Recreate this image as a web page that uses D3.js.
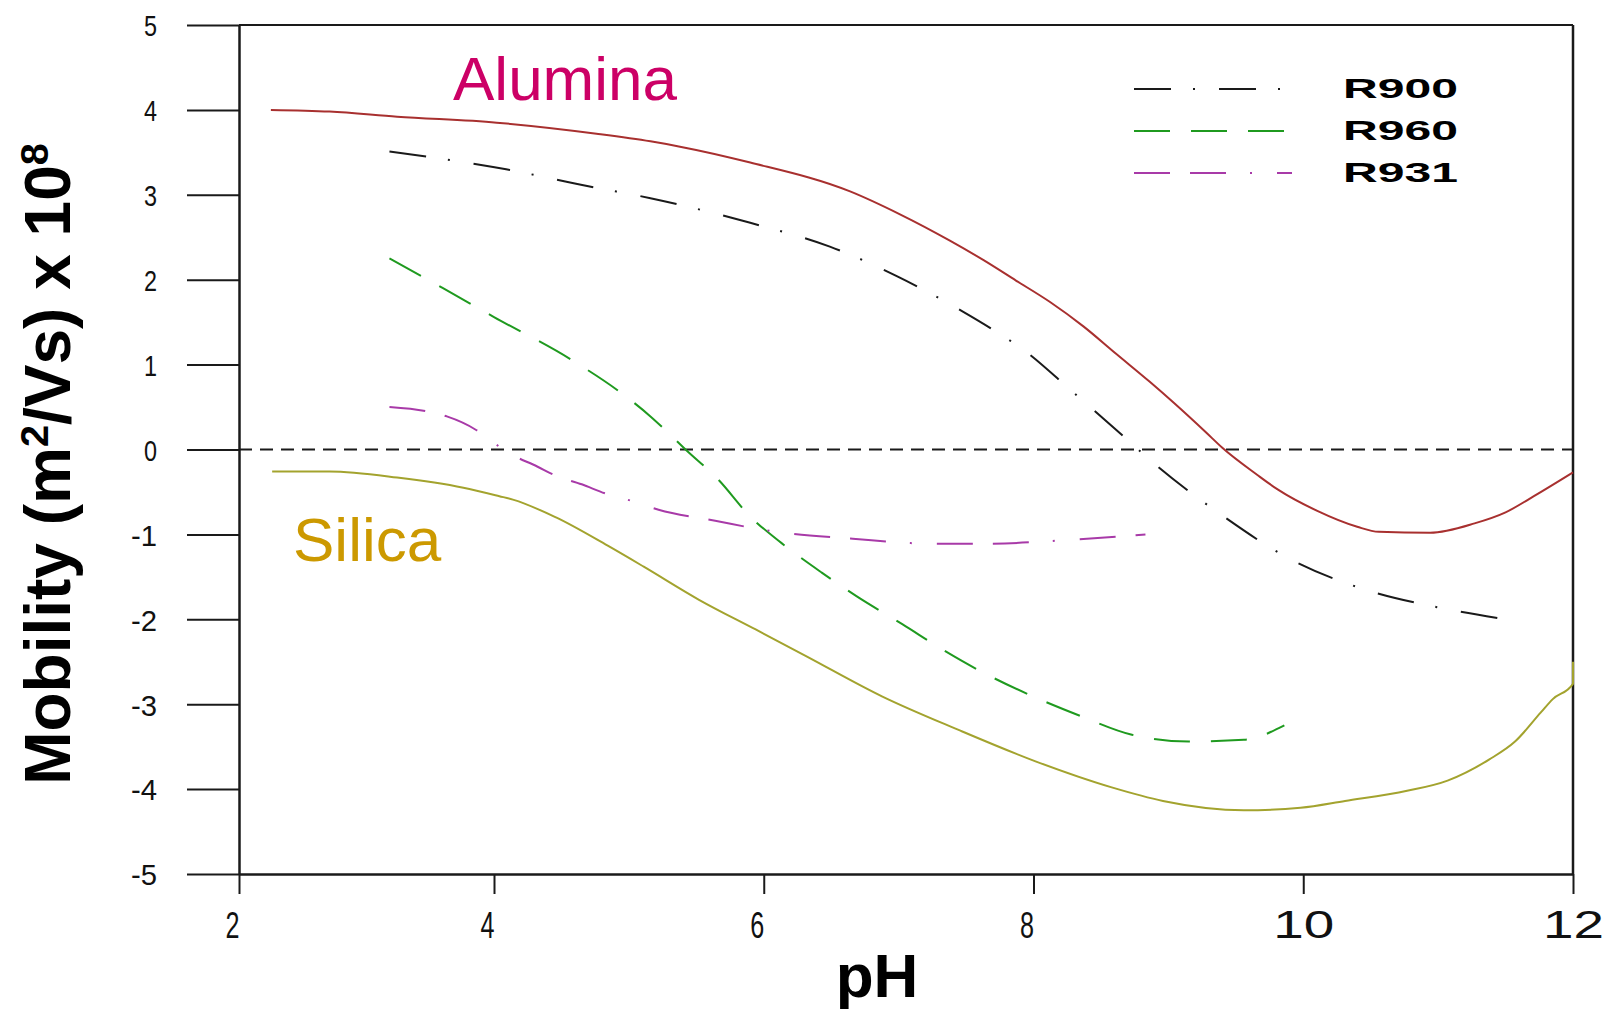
<!DOCTYPE html>
<html>
<head>
<meta charset="utf-8">
<script src="https://cdn.jsdelivr.net/npm/d3@7"></script>
<style>
  body { margin: 0; background: #fff; }
  svg { display: block; }
</style>
</head>
<body>
<svg id="chart" width="1621" height="1009"></svg>
<script>
// ---- data (pH vs mobility x 10^8) ----
const xTicks = [2, 4, 6, 8, 10, 12];
const yTicks = [-5, -4, -3, -2, -1, 0, 1, 2, 3, 4, 5];

const aluminaPH  = [2.25, 2.71, 3.24, 4.02, 4.76, 5.16, 5.37, 5.90, 6.64, 7.01, 7.38, 7.63, 7.87, 8.12, 8.37, 8.61, 8.86, 9.04, 9.28, 9.40, 9.66, 9.81, 10.1, 10.4, 10.56, 10.94, 11.27, 11.5, 11.71, 12.0];
const aluminaMob = [4.0, 3.98, 3.92, 3.85, 3.72, 3.63, 3.57, 3.38, 3.04, 2.77, 2.46, 2.23, 1.99, 1.74, 1.45, 1.13, 0.80, 0.55, 0.20, 0.02, -0.30, -0.47, -0.72, -0.91, -0.97, -0.98, -0.87, -0.74, -0.55, -0.27];

const silicaPH  = [2.26, 2.71, 3.24, 3.76, 4.04, 4.14, 4.46, 4.84, 5.11, 5.52, 5.94, 6.31, 6.88, 7.44, 8.01, 8.58, 8.96, 9.56, 9.98, 10.31, 10.77, 11.07, 11.38, 11.57, 11.76, 11.85, 12.0, 12.0];
const silicaMob = [-0.26, -0.26, -0.33, -0.45, -0.55, -0.59, -0.80, -1.13, -1.38, -1.77, -2.12, -2.43, -2.91, -3.30, -3.67, -3.98, -4.14, -4.25, -4.22, -4.14, -4.02, -3.90, -3.65, -3.44, -3.10, -2.94, -2.76, -2.5];

const r900PH  = [3.18, 4.09, 4.70, 5.16, 5.90, 6.49, 6.99, 7.47, 7.76, 7.92, 8.29, 8.65, 8.89, 9.42, 9.89, 10.42, 11.0, 11.5];
const r900Mob = [3.51, 3.30, 3.10, 2.96, 2.67, 2.39, 2.04, 1.63, 1.35, 1.18, 0.68, 0.18, -0.16, -0.80, -1.28, -1.63, -1.86, -2.0];

const r960PH  = [3.18, 3.6, 4.0, 4.57, 4.99, 5.16, 5.25, 5.42, 5.66, 5.90, 6.13, 6.43, 6.69, 7.03, 7.33, 7.63, 7.97, 8.35, 8.73, 9.15, 9.56, 9.86];
const r960Mob = [2.25, 1.9, 1.56, 1.06, 0.61, 0.39, 0.26, 0.0, -0.35, -0.79, -1.10, -1.45, -1.73, -2.06, -2.36, -2.63, -2.89, -3.14, -3.36, -3.44, -3.42, -3.25];

const r931PH  = [3.18, 3.47, 3.63, 3.86, 3.97, 4.12, 4.32, 4.46, 4.65, 4.83, 5.03, 5.22, 5.64, 6.05, 6.66, 7.26, 7.63, 8.31, 8.83];
const r931Mob = [0.50, 0.45, 0.39, 0.23, 0.11, -0.05, -0.20, -0.31, -0.41, -0.52, -0.61, -0.71, -0.84, -0.96, -1.05, -1.11, -1.11, -1.06, -1.0];

const legendLabels = ["R900", "R960", "R931"];

// ---- layout ----
const svg = d3.select('#chart');
const plot = { left: 239, right: 1573, top: 25, bottom: 874 };

// the scanned axis has a slightly shorter 2-4 interval
const x = d3.scaleLinear().domain([2, 4, 12]).range([plot.left, plot.left + 255, plot.right]);
const y = d3.scaleLinear().domain([-5, 5]).range([plot.bottom, plot.top]);

const zip = (xs, ys) => xs.map((v, i) => [v, ys[i]]);

const series = [
  { key: 'alumina', data: zip(aluminaPH, aluminaMob), color: '#a8302f', dash: null },
  { key: 'silica',  data: zip(silicaPH, silicaMob),   color: '#a3a32e', dash: null },
  { key: 'R900',    data: zip(r900PH, r900Mob),       color: '#1a1a1a', dash: '37,22,2,24' },
  { key: 'R960',    data: zip(r960PH, r960Mob),       color: '#1f9a1f', dash: '36,21' },
  { key: 'R931',    data: zip(r931PH, r931Mob),       color: '#a83aa8', dash: '36,20,36,24,2,25' }
];

// ---- axes ----
const yAxisG = svg.append('g')
  .attr('transform', `translate(${plot.left},0)`)
  .call(d3.axisLeft(y).tickValues(yTicks).tickSize(52).tickSizeOuter(0).tickPadding(30).tickFormat(d => String(d)));

const xAxisG = svg.append('g')
  .attr('transform', `translate(0,${plot.bottom})`)
  .call(d3.axisBottom(x).tickValues(xTicks).tickSize(20).tickSizeOuter(0).tickFormat(d => String(d)));

[yAxisG, xAxisG].forEach(g => {
  g.select('.domain').attr('stroke', '#1a1a1a').attr('stroke-width', 2.5);
  g.selectAll('.tick line').attr('stroke', '#1a1a1a').attr('stroke-width', 2);
});

yAxisG.selectAll('.tick text')
  .attr('font-family', 'Liberation Sans, Arial, sans-serif')
  .attr('font-size', 30)
  .attr('fill', '#111')
  .attr('dy', '0.36em')
  .attr('textLength', d => String(d).length * 13)
  .attr('lengthAdjust', 'spacingAndGlyphs');

xAxisG.selectAll('.tick text')
  .attr('font-family', 'Liberation Sans, Arial, sans-serif')
  .attr('fill', '#111')
  .attr('y', 64)
  .attr('dy', 0)
  .attr('font-size', d => String(d).length > 1 ? 38 : 36)
  .attr('text-anchor', d => String(d).length > 1 ? 'middle' : 'end')
  .attr('textLength', d => String(d).length > 1 ? 61 : 14)
  .attr('lengthAdjust', 'spacingAndGlyphs');

// frame: top and right
svg.append('line')
  .attr('x1', x(2)).attr('x2', x(12)).attr('y1', y(5)).attr('y2', y(5))
  .attr('stroke', '#1a1a1a').attr('stroke-width', 2);
svg.append('line')
  .attr('x1', x(12)).attr('x2', x(12)).attr('y1', y(5)).attr('y2', y(-5))
  .attr('stroke', '#1a1a1a').attr('stroke-width', 2.5);

// zero line
svg.append('line')
  .attr('x1', x(2)).attr('x2', x(12)).attr('y1', y(0)).attr('y2', y(0))
  .attr('stroke', '#1a1a1a').attr('stroke-width', 2)
  .attr('stroke-dasharray', '13,8');

// ---- curves ----
const line = d3.line()
  .x(d => x(d[0]))
  .y(d => y(d[1]))
  .curve(d3.curveMonotoneX);

svg.append('g').selectAll('path')
  .data(series)
  .join('path')
  .attr('fill', 'none')
  .attr('stroke', d => d.color)
  .attr('stroke-width', 2)
  .attr('stroke-dasharray', d => d.dash)
  .attr('d', d => line(d.data));

// ---- legend ----
const legend = svg.append('g').attr('transform', 'translate(1134,89)');
const legendSeries = series.filter(s => legendLabels.includes(s.key));
legendSeries.forEach((s, i) => {
  const row = legend.append('g').attr('transform', `translate(0,${i * 42})`);
  row.append('line')
    .attr('x1', 0).attr('x2', 158).attr('y1', 0).attr('y2', 0)
    .attr('stroke', s.color).attr('stroke-width', 2)
    .attr('stroke-dasharray', s.dash);
  row.append('text')
    .attr('x', 209).attr('y', 9)
    .attr('font-family', 'Liberation Sans, Arial, sans-serif')
    .attr('font-weight', 'bold')
    .attr('font-size', 28)
    .attr('textLength', 115)
    .attr('lengthAdjust', 'spacingAndGlyphs')
    .attr('fill', '#000')
    .text(s.key);
});

// ---- annotations ----
svg.append('text')
  .attr('x', 453).attr('y', 100)
  .attr('font-family', 'Liberation Sans, Arial, sans-serif')
  .attr('font-size', 62)
  .attr('fill', '#cc0066')
  .text('Alumina');

svg.append('text')
  .attr('x', 293).attr('y', 561)
  .attr('font-family', 'Liberation Sans, Arial, sans-serif')
  .attr('font-size', 62)
  .attr('fill', '#cc9900')
  .text('Silica');

// ---- axis titles ----
svg.append('text')
  .attr('x', 877).attr('y', 997)
  .attr('text-anchor', 'middle')
  .attr('font-family', 'Liberation Sans, Arial, sans-serif')
  .attr('font-weight', 'bold')
  .attr('font-size', 62)
  .attr('fill', '#000')
  .text('pH');

const yTitle = svg.append('text')
  .attr('transform', 'translate(70,464) rotate(-90)')
  .attr('text-anchor', 'middle')
  .attr('font-family', 'Liberation Sans, Arial, sans-serif')
  .attr('font-weight', 'bold')
  .attr('font-size', 64)
  .attr('fill', '#000');
yTitle.append('tspan').text('Mobility (m');
yTitle.append('tspan').attr('baseline-shift', 'super').attr('font-size', '0.62em').text('2');
yTitle.append('tspan').text('/Vs) x 10');
yTitle.append('tspan').attr('baseline-shift', 'super').attr('font-size', '0.62em').text('8');
</script>
</body>
</html>
